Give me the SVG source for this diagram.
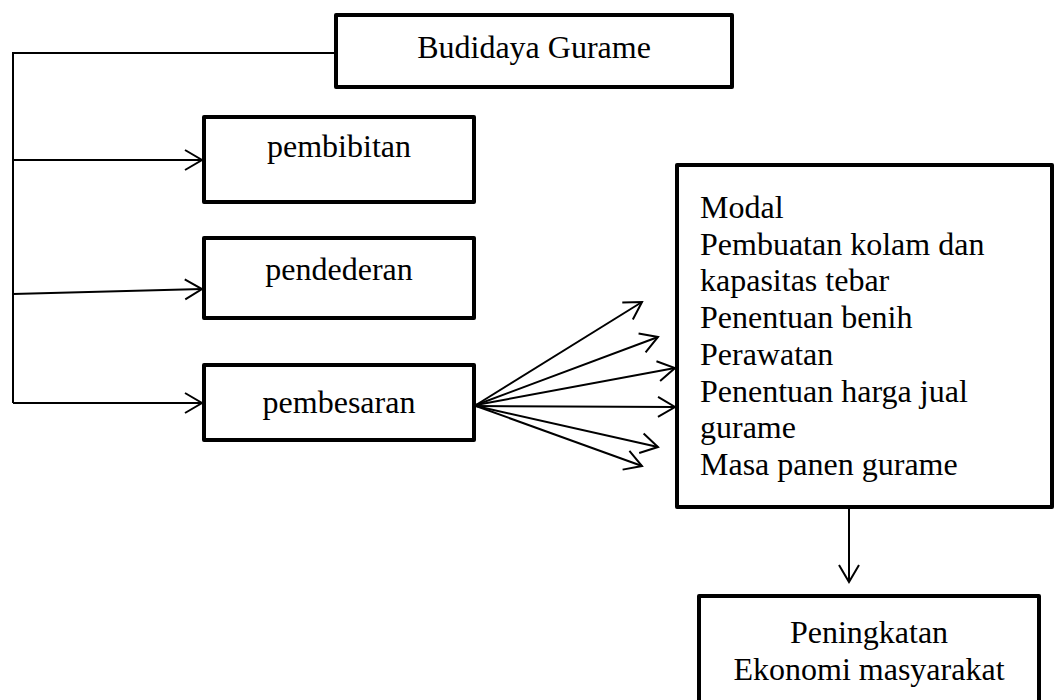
<svg xmlns="http://www.w3.org/2000/svg" width="1055" height="700" viewBox="0 0 1055 700">
<defs>
<marker id="arr" markerUnits="userSpaceOnUse" viewBox="-20 -12 22 24" markerWidth="22" markerHeight="24" refX="0" refY="0" orient="auto" overflow="visible">
<path d="M-17,-10 L0,0 L-17,10" fill="none" stroke="#000" stroke-width="2"/>
</marker>
</defs>
<style>
.box{fill:#fff;stroke:#000;stroke-width:4;stroke-linejoin:round}
.t{font-family:"Liberation Serif","Times New Roman",serif;font-size:32px;fill:#000}
.c{text-anchor:middle}
.ln{fill:none;stroke:#000;stroke-width:2}
.ar{fill:none;stroke:#000;stroke-width:2;marker-end:url(#arr)}
</style>
<rect width="1055" height="700" fill="#fff"/>
<g id="connectors">
<polyline class="ln" points="336,53 13,53 13,403"/>
<line class="ar" x1="13" y1="160" x2="202" y2="160"/>
<line class="ar" x1="13" y1="294" x2="202" y2="289"/>
<line class="ar" x1="13" y1="403" x2="202" y2="403"/>
<line class="ar" x1="476" y1="405" x2="642" y2="302"/>
<line class="ar" x1="476" y1="405" x2="658" y2="337"/>
<line class="ar" x1="476" y1="405" x2="675" y2="368"/>
<line class="ar" x1="476" y1="406" x2="675" y2="407"/>
<line class="ar" x1="476" y1="406" x2="658" y2="447"/>
<line class="ar" x1="476" y1="406" x2="642" y2="466"/>
<line class="ar" x1="849" y1="508" x2="849" y2="582"/>
</g>
<g id="budidaya">
<rect class="box" x="336" y="15" width="396" height="72"/>
<text class="t c" x="534" y="58">Budidaya Gurame</text>
</g>
<g id="pembibitan">
<rect class="box" x="204" y="117" width="270" height="85"/>
<text class="t c" x="339" y="157">pembibitan</text>
</g>
<g id="pendederan">
<rect class="box" x="204" y="238" width="270" height="80"/>
<text class="t c" x="339" y="280">pendederan</text>
</g>
<g id="pembesaran">
<rect class="box" x="204" y="365" width="270" height="75"/>
<text class="t c" x="339" y="413">pembesaran</text>
</g>
<g id="aspek">
<rect class="box" x="677" y="165" width="375" height="342"/>
<text class="t" x="700" y="218">Modal</text>
<text class="t" x="700" y="255">Pembuatan kolam dan</text>
<text class="t" x="700" y="291">kapasitas tebar</text>
<text class="t" x="700" y="328">Penentuan benih</text>
<text class="t" x="700" y="365">Perawatan</text>
<text class="t" x="700" y="402">Penentuan harga jual</text>
<text class="t" x="700" y="438">gurame</text>
<text class="t" x="700" y="475">Masa panen gurame</text>
</g>
<g id="peningkatan">
<rect class="box" x="699" y="596" width="340" height="120"/>
<text class="t c" x="869" y="643">Peningkatan</text>
<text class="t c" x="869" y="680">Ekonomi masyarakat</text>
</g>
</svg>
